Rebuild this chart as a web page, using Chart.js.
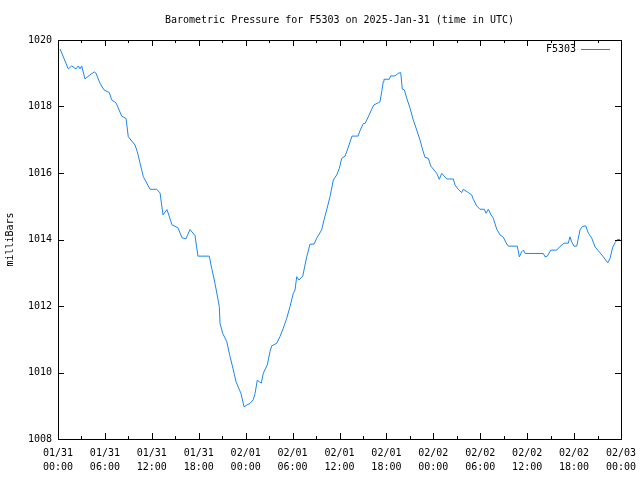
<!DOCTYPE html>
<html>
<head>
<meta charset="utf-8">
<script src="https://cdn.jsdelivr.net/npm/chart.js@4.4.1/dist/chart.umd.min.js"></script>
<style>
  html, body { margin: 0; padding: 0; background: #fff; }
  #wrap { width: 640px; height: 480px; }
</style>
</head>
<body>
<div id="wrap"><canvas id="pressureChart" width="640" height="480"></canvas></div>
<script>
// hours since 01/31 00:00 UTC
const hours = [
  0.26, 1.32, 1.75, 2.30, 2.60, 2.81, 3.03, 3.45, 4.09, 4.64, 4.86, 5.37, 5.88,
  6.56, 6.87, 7.42, 8.15, 8.70, 8.99, 9.85, 10.14, 10.91, 11.77, 12.62, 13.05,
  13.43, 13.94, 14.58, 15.35, 15.86, 16.37, 16.88, 17.52, 17.90, 19.35, 19.66,
  20.08, 20.63, 20.72, 21.06, 21.58, 22.00, 22.42, 22.77, 23.40, 23.79, 24.13,
  24.56, 24.98, 25.20, 25.49, 25.75, 26.00, 26.26, 26.77, 27.11, 27.33, 27.97,
  28.39, 28.81, 29.25, 29.67, 30.09, 30.31, 30.53, 30.82, 31.30, 31.81, 32.23,
  32.74, 33.09, 33.72, 34.02, 34.36, 34.79, 35.21, 35.64, 35.98, 36.28, 36.71,
  37.00, 37.60, 38.37, 38.62, 39.05, 39.26, 39.69, 40.12, 40.41, 40.96, 41.18,
  41.40, 41.60, 41.69, 42.37, 42.55, 43.10, 43.52, 43.83, 44.03, 44.29, 44.60,
  45.02, 45.44, 45.88, 46.30, 46.64, 46.94, 47.36, 47.67, 48.09, 48.43, 48.77,
  49.07, 49.71, 50.56, 50.77, 51.19, 51.63, 51.83, 52.47, 52.91, 53.11, 53.55,
  53.97, 54.52, 54.74, 55.03, 55.38, 55.67, 56.11, 56.53, 56.95, 57.30, 57.59,
  58.74, 59.00, 59.30, 59.51, 59.76, 62.07, 62.28, 62.58, 63.01, 63.78, 64.11,
  64.71, 65.26, 65.48, 65.69, 65.99, 66.34, 66.76, 67.06, 67.49, 67.83, 68.26,
  68.68, 69.10, 69.74, 70.30, 70.60, 70.94, 71.24, 71.53, 71.87
];

const pressure = [
  1019.73, 1019.13, 1019.22, 1019.13, 1019.22, 1019.13, 1019.22, 1018.83, 1018.95, 1019.04, 1019.00, 1018.70, 1018.50,
  1018.42, 1018.20, 1018.11, 1017.71, 1017.64, 1017.09, 1016.84, 1016.64, 1015.89, 1015.51, 1015.51, 1015.40,
  1014.74, 1014.90, 1014.44, 1014.35, 1014.05, 1014.02, 1014.30, 1014.12, 1013.50, 1013.50, 1013.13,
  1012.68, 1011.98, 1011.48, 1011.18, 1010.93, 1010.48, 1010.08, 1009.72, 1009.37, 1008.97, 1009.02,
  1009.07, 1009.19, 1009.37, 1009.77, 1009.72, 1009.68, 1009.98, 1010.23, 1010.63, 1010.80, 1010.88,
  1011.08, 1011.33, 1011.63, 1011.98, 1012.38, 1012.48, 1012.88, 1012.78, 1012.90, 1013.48, 1013.86,
  1013.86, 1014.04, 1014.29, 1014.59, 1014.89, 1015.29, 1015.79, 1015.94, 1016.14, 1016.44, 1016.51,
  1016.69, 1017.11, 1017.11, 1017.27, 1017.49, 1017.49, 1017.69, 1017.92, 1018.05, 1018.11, 1018.14,
  1018.45, 1018.75, 1018.82, 1018.82, 1018.92, 1018.92, 1019.00, 1019.02, 1018.52, 1018.50, 1018.25,
  1017.95, 1017.59, 1017.29, 1016.99, 1016.69, 1016.47, 1016.44, 1016.21, 1016.09, 1015.99, 1015.81,
  1015.99, 1015.82, 1015.82, 1015.64, 1015.51, 1015.41, 1015.51, 1015.41, 1015.34, 1015.21, 1015.01,
  1014.91, 1014.91, 1014.79, 1014.91, 1014.74, 1014.64, 1014.31, 1014.14, 1014.07, 1013.90, 1013.80,
  1013.80, 1013.48, 1013.63, 1013.68, 1013.58, 1013.58, 1013.48, 1013.50, 1013.68, 1013.68, 1013.77,
  1013.89, 1013.89, 1014.08, 1013.93, 1013.80, 1013.80, 1014.29, 1014.39, 1014.41, 1014.19, 1014.04,
  1013.78, 1013.66, 1013.48, 1013.30, 1013.43, 1013.77, 1013.90, 1014.00, 1014.00
];

// tick labels every 6 hours
const tickDates = ["01/31", "01/31", "01/31", "01/31", "02/01", "02/01", "02/01", "02/01", "02/02", "02/02", "02/02", "02/02", "02/03"];
const tickTimes = ["00:00", "06:00", "12:00", "18:00", "00:00", "06:00", "12:00", "18:00", "00:00", "06:00", "12:00", "18:00", "00:00"];

const seriesName = "F5303";
const lineColor = "#1c86ee";
const monoFont = "'DejaVu Sans Mono', 'Liberation Mono', monospace";

const points = hours.map((h, i) => ({ x: h, y: pressure[i] }));

// gnuplot style frame: border, inward ticks, title and key
const gnuplotFrame = {
  id: "gnuplotFrame",
  afterDraw(chart) {
    const { ctx, chartArea: a, scales } = chart;
    ctx.save();
    ctx.strokeStyle = "#000";
    ctx.lineWidth = 1;
    ctx.strokeRect(a.left + 0.5, a.top + 0.5, a.right - a.left, a.bottom - a.top);

    ctx.beginPath();
    for (let t = 0; t <= 72; t += 3) {
      const x = Math.round(scales.x.getPixelForValue(t)) + 0.5;
      const len = t % 6 === 0 ? 6 : 3;
      ctx.moveTo(x, a.bottom);
      ctx.lineTo(x, a.bottom - len);
      ctx.moveTo(x, a.top);
      ctx.lineTo(x, a.top + len);
    }
    for (let v = 1008; v <= 1020; v += 2) {
      const y = Math.round(scales.y.getPixelForValue(v)) + 0.5;
      ctx.moveTo(a.left, y);
      ctx.lineTo(a.left + 6, y);
      ctx.moveTo(a.right, y);
      ctx.lineTo(a.right - 6, y);
    }
    ctx.stroke();

    // title
    ctx.fillStyle = "#000";
    ctx.font = "10px " + monoFont;
    ctx.textAlign = "center";
    ctx.textBaseline = "middle";
    ctx.fillText("Barometric Pressure for F5303 on 2025-Jan-31 (time in UTC)", (a.left + a.right) / 2, 20);

    // key
    ctx.textAlign = "right";
    ctx.fillText(seriesName, a.right - 45, 49);
    ctx.strokeStyle = lineColor;
    ctx.beginPath();
    ctx.moveTo(a.right - 40, 49.5);
    ctx.lineTo(a.right - 11, 49.5);
    ctx.stroke();
    ctx.restore();
  }
};

new Chart(document.getElementById("pressureChart").getContext("2d"), {
  type: "line",
  data: {
    datasets: [
      {
        label: seriesName,
        data: points,
        borderColor: lineColor,
        borderWidth: 1,
        pointRadius: 0,
        tension: 0,
        fill: false,
      },
    ],
  },
  options: {
    responsive: false,
    animation: false,
    layout: { padding: { left: 0, right: 19, top: 40, bottom: 0 } },
    plugins: {
      legend: { display: false },
      title: { display: false },
      tooltip: { enabled: false },
    },
    scales: {
      x: {
        type: "linear",
        min: 0,
        max: 72,
        grid: { display: false, drawTicks: false },
        border: { display: false },
        afterFit: (s) => {
          s.height = 41;
          s.paddingLeft = 0;
          s.paddingRight = 0;
        },
        ticks: {
          stepSize: 6,
          maxRotation: 0,
          autoSkip: false,
          padding: 7,
          color: "#000",
          font: { family: monoFont, size: 10, lineHeight: 1.4 },
          callback: (v) => {
            const i = Math.round(v / 6);
            return [tickDates[i], tickTimes[i]];
          },
        },
      },
      y: {
        min: 1008,
        max: 1020,
        grid: { display: false, drawTicks: false },
        border: { display: false },
        afterFit: (s) => { s.width = 58; },
        title: {
          display: true,
          text: "milliBars",
          color: "#000",
          font: { family: monoFont, size: 10 },
        },
        ticks: {
          stepSize: 2,
          padding: 6,
          color: "#000",
          font: { family: monoFont, size: 10 },
          callback: (v) => String(v),
        },
      },
    },
  },
  plugins: [gnuplotFrame],
});
</script>
</body>
</html>
